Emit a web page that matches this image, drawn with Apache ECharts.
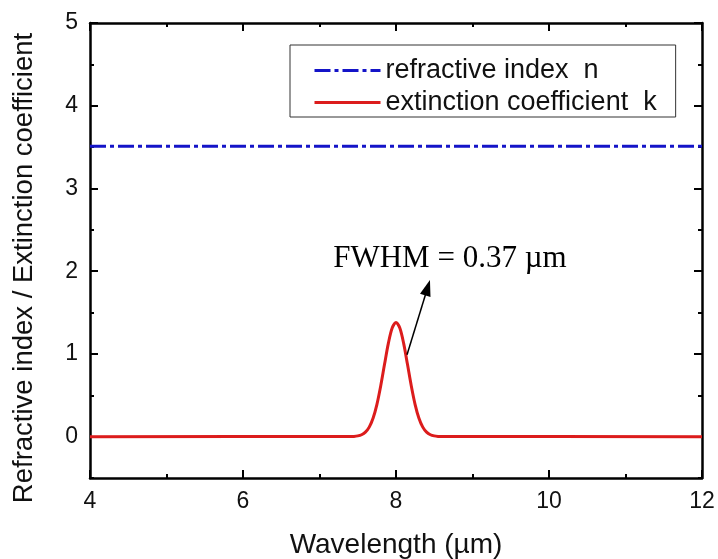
<!DOCTYPE html>
<html>
<head>
<meta charset="utf-8">
<script src="https://cdn.jsdelivr.net/npm/echarts@6/dist/echarts.min.js"></script>
<style>
  html, body { margin: 0; padding: 0; background: #fff; }
  #chart { width: 718px; height: 559px; }
</style>
</head>
<body>
<div id="chart"></div>
<script>
// Wavelength samples (µm) and optical constants
const wavelength = [4, 7.4, 7.45, 7.5, 7.55, 7.6, 7.65, 7.7, 7.75, 7.8, 7.85, 7.9, 7.95, 8.0,
                    8.05, 8.1, 8.15, 8.2, 8.25, 8.3, 8.35, 8.4, 8.45, 8.5, 8.55, 8.6, 12];
const kValues = [0, 0.001, 0.003, 0.009, 0.023, 0.054, 0.115, 0.222, 0.388, 0.613, 0.874, 1.127, 1.312, 1.38,
                 1.312, 1.127, 0.874, 0.613, 0.388, 0.222, 0.115, 0.054, 0.023, 0.009, 0.003, 0.001, 0];
const nWavelength = [4, 12];
const nValues = [3.51, 3.51];

const xTicks = [4, 6, 8, 10, 12];
const yTicks = [0, 1, 2, 3, 4, 5];
const yMinorTicks = [-0.5, 0.5, 1.5, 2.5, 3.5, 4.5];

const seriesNames = ['refractive index  n', 'extinction coefficient  k'];
const annotationText = 'FWHM = 0.37 \u00b5m';
const arrowFrom = [8.144, 0.99];
const arrowTo = [8.413, 1.80];
const annotationAt = [8.705, 2.145];

const sans = 'Liberation Sans, Arial, sans-serif';
const serif = 'Liberation Serif, Times New Roman, serif';

const chart = echarts.init(document.getElementById('chart'), null, { renderer: 'canvas' });

const black = '#000';
const lineAxis = { show: true, onZero: false, lineStyle: { color: black, width: 2.5 } };

function xAxisDef(position, withLabels) {
  return {
    type: 'value', min: xTicks[0], max: xTicks[xTicks.length - 1], interval: 2,
    position: position,
    axisLine: lineAxis,
    axisTick: { show: true, inside: true, length: 8, lineStyle: { color: black, width: 2 } },
    minorTick: { show: true, splitNumber: 2, length: 4, lineStyle: { color: black, width: 2 } },
    splitLine: { show: false },
    axisLabel: withLabels
      ? { show: true, margin: 12, fontFamily: sans, fontSize: 23, color: '#111' }
      : { show: false }
  };
}

// Major ticks/labels at integers; a second overlaid axis carries the half-step ticks
function yMajorDef(position, withLabels) {
  return {
    type: 'value', min: -0.5, max: 5, interval: 0.5,
    position: position,
    axisLine: lineAxis,
    axisTick: { show: true, inside: true, length: 8, customValues: yTicks, lineStyle: { color: black, width: 2 } },
    splitLine: { show: false },
    axisLabel: withLabels
      ? { show: true, margin: 12, fontFamily: sans, fontSize: 23, color: '#111', customValues: yTicks }
      : { show: false }
  };
}
function yMinorDef(position) {
  return {
    type: 'value', min: -0.5, max: 5, interval: 0.5,
    position: position,
    axisLine: { show: false },
    axisTick: { show: true, inside: true, length: 4, customValues: yMinorTicks, lineStyle: { color: black, width: 2 } },
    splitLine: { show: false },
    axisLabel: { show: false }
  };
}

const yLeft = yMajorDef('left', true);
yLeft.name = 'Refractive index / Extinction coefficient';
yLeft.nameLocation = 'middle';
yLeft.nameGap = 52;
yLeft.nameTextStyle = { fontFamily: sans, fontSize: 27.5, color: '#111', padding: [0, 35, 0, 0] };

const xBottom = xAxisDef('bottom', true);
xBottom.name = 'Wavelength (\u00b5m)';
xBottom.nameLocation = 'middle';
xBottom.nameGap = 53;
xBottom.nameTextStyle = { fontFamily: sans, fontSize: 28, color: '#111' };

chart.setOption({
  animation: false,
  backgroundColor: '#fff',
  grid: { left: 90, right: 16, top: 23, bottom: 81, containLabel: false, outerBoundsMode: 'none' },
  legend: {
    orient: 'vertical',
    left: 290,
    top: 45,
    padding: [12, 19, 1, 23],
    itemWidth: 66,
    itemHeight: 4,
    itemGap: 5,
    borderColor: '#333',
    borderWidth: 1,
    borderRadius: 0,
    itemStyle: { opacity: 0 },
    lineStyle: { width: 3 },
    textStyle: { fontFamily: sans, fontSize: 27, color: '#111' },
    data: seriesNames
  },
  xAxis: [xBottom, xAxisDef('top', false)],
  yAxis: [yLeft, yMajorDef('right', false), yMinorDef('left'), yMinorDef('right')],
  series: [
    {
      name: seriesNames[0],
      type: 'line',
      xAxisIndex: 0, yAxisIndex: 0,
      symbol: 'none',
      data: nWavelength.map((x, i) => [x, nValues[i]]),
      lineStyle: { color: '#1414c8', width: 3, type: [16, 4, 4, 4], cap: 'butt' },
      itemStyle: { color: '#1414c8' },
      z: 3
    },
    {
      name: seriesNames[1],
      type: 'line',
      xAxisIndex: 0, yAxisIndex: 0,
      symbol: 'none',
      smooth: 0.3,
      data: wavelength.map((x, i) => [x, kValues[i]]),
      lineStyle: { color: '#dc1c1c', width: 3, join: 'round' },
      itemStyle: { color: '#dc1c1c' },
      z: 3,
      markLine: {
        silent: true,
        symbol: ['none', 'triangle'],
        symbolSize: [11, 16],
        lineStyle: { color: black, width: 1.5, type: 'solid' },
        label: { show: false },
        data: [[{ coord: arrowFrom }, { coord: arrowTo }]]
      },
      markPoint: {
        silent: true,
        symbol: 'circle',
        symbolSize: 0,
        itemStyle: { color: 'transparent' },
        label: {
          show: true, position: 'inside',
          fontFamily: serif, fontSize: 31, color: black,
          formatter: annotationText
        },
        data: [{ coord: annotationAt }]
      }
    }
  ]
});
</script>
</body>
</html>
